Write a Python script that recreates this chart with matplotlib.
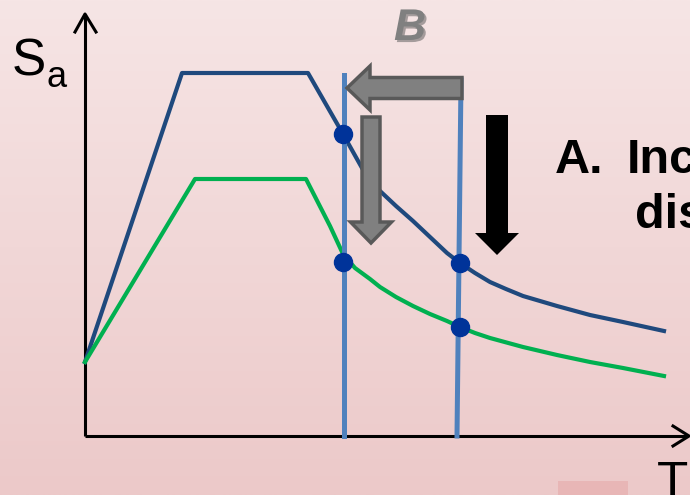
import numpy as np
import matplotlib.pyplot as plt
from matplotlib.patches import FancyArrow, Rectangle
import matplotlib.patheffects as pe

# response spectra (T, Sa) in chart units, origin at the axes corner
blue_T = [0, 0.97, 2.23, 2.58, 2.77, 2.86, 2.95, 3.11, 3.28, 3.45, 3.62, 3.75, 3.90, 4.05, 4.21,
          4.38, 4.55, 4.72, 5.05, 5.38, 5.79]
blue_Sa = [0.74, 3.63, 3.63, 3.02, 2.68, 2.56, 2.45, 2.30, 2.15, 1.99, 1.83, 1.73, 1.63, 1.54, 1.47,
           1.40, 1.35, 1.30, 1.21, 1.14, 1.05]
green_T = [0, 1.10, 2.21, 2.45, 2.58, 2.70, 2.85, 2.95, 3.11, 3.28, 3.45, 3.62, 3.75, 3.90, 4.05,
           4.38, 4.72, 5.05, 5.38, 5.79]
green_Sa = [0.74, 2.57, 2.57, 2.10, 1.82, 1.68, 1.57, 1.49, 1.39, 1.30, 1.22, 1.15, 1.09, 1.03, 0.98,
            0.89, 0.81, 0.74, 0.68, 0.60]

# periods marked with vertical lines, and the points picked off the spectra
period_1 = [2.59, 2.59]
period_1_Sa = [0, 3.61]
period_2 = [3.72, 3.76]
period_2_Sa = [0, 3.56]
dot_T = [2.58, 2.58, 3.75, 3.75]
dot_Sa = [3.02, 1.74, 1.73, 1.09]

fig = plt.figure(figsize=(6.9, 4.95), dpi=100)
ax = fig.add_axes([0, 0, 1, 1])
ax.set_xlim(-0.85, 6.05)
ax.set_ylim(-0.59, 4.36)
ax.axis('off')

# background gradient
grad = np.linspace(0, 1, 256).reshape(-1, 1)
top = np.array([246, 229, 229]) / 255
bot = np.array([236, 201, 201]) / 255
img = top + (bot - top) * grad[:, :, None]
ax.imshow(img, extent=(-0.85, 6.05, -0.59, 4.36), origin='upper', aspect='auto', zorder=0)
ax.add_patch(Rectangle((4.73, -0.59), 0.70, 0.14, color='#e8b6b6', zorder=1, lw=0))

# axes with open arrow heads
k = dict(color='black', lw=2.2, solid_capstyle='butt', zorder=2)
ax.plot([0, 0], [0, 4.22], **k)
ax.plot([0, 6.03], [0, 0], **k)
ax.plot([-0.10, 0, 0.11], [4.04, 4.22, 4.04], color='black', lw=2.2, zorder=2)
ax.plot([5.88, 6.04, 5.88], [0.10, 0, -0.10], color='black', lw=2.2, zorder=2)

# spectra
ax.plot(blue_T, blue_Sa, color='#1f497d', lw=3, zorder=3)
ax.plot(green_T, green_Sa, color='#00b050', lw=3, zorder=3)

# period lines
ax.plot(period_1, period_1_Sa, color='#4f81bd', lw=3.6, zorder=4)
ax.plot(period_2, period_2_Sa, color='#4f81bd', lw=3.6, zorder=4)

ax.plot(dot_T, dot_Sa, 'o', color='#003399', ms=13, zorder=6)

# arrows
ax.add_patch(FancyArrow(3.77, 3.48, -1.15, 0, width=0.21, head_width=0.44, head_length=0.23,
                        length_includes_head=True, fc='#808080', ec='#595959', lw=2.5, zorder=5))
ax.add_patch(FancyArrow(2.86, 3.19, 0, -1.26, width=0.18, head_width=0.41, head_length=0.21,
                        length_includes_head=True, fc='#808080', ec='#595959', lw=2.5, zorder=5))
ax.add_patch(FancyArrow(4.12, 3.21, 0, -1.40, width=0.22, head_width=0.44, head_length=0.22,
                        length_includes_head=True, fc='black', ec='black', lw=0, zorder=5))

# labels
font = 'Liberation Sans'
ax.text(-0.73, 3.61, 'S', fontsize=37, family=font, va='baseline', ha='left')
ax.text(-0.39, 3.49, 'a', fontsize=26, family=font, va='baseline', ha='left')
ax.text(5.72, -0.62, 'T', fontsize=37, family=font, va='baseline', ha='left')
ax.text(4.70, 2.63, 'A.', fontsize=35, family=font, weight='bold', va='baseline', ha='left')
ax.text(5.42, 2.63, 'Increase', fontsize=35, family=font, weight='bold', va='baseline', ha='left')
ax.text(5.50, 2.08, 'dissipation', fontsize=35, family=font, weight='bold', va='baseline', ha='left')
ax.text(3.09, 3.96, 'B', fontsize=32, family=font, weight='bold', style='italic', color='#808080',
        va='baseline', ha='left',
        path_effects=[pe.SimplePatchShadow(offset=(1.5, -1.5), shadow_rgbFace='#555555', alpha=0.5), pe.Normal()])

fig.savefig('out.png', dpi=100)
